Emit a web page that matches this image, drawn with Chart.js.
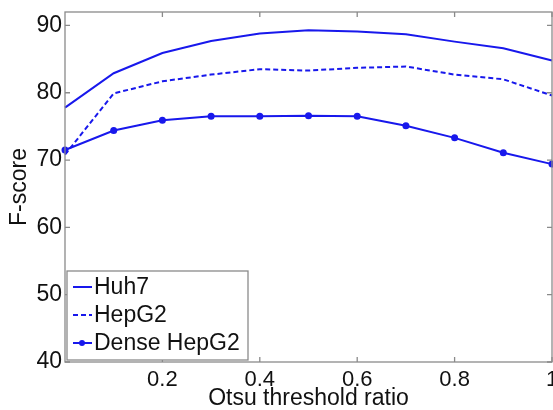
<!DOCTYPE html>
<html>
<head>
<meta charset="utf-8">
<script src="https://cdn.jsdelivr.net/npm/chart.js@4.4.1/dist/chart.umd.min.js"></script>
<style>
  html, body { margin: 0; padding: 0; background: #fff; }
  #wrap { width: 553px; height: 410px; }
</style>
</head>
<body>
<div id="wrap"><canvas id="myChart" width="553" height="410"></canvas></div>
<script>
var xValues = [0, 0.1, 0.2, 0.3, 0.4, 0.5, 0.6, 0.7, 0.8, 0.9, 1.0];
var huh7 = [77.8, 82.9, 85.9, 87.7, 88.8, 89.3, 89.1, 88.7, 87.6, 86.6, 84.8];
var hepg2 = [70.8, 79.9, 81.7, 82.7, 83.5, 83.3, 83.7, 83.9, 82.7, 82.0, 79.6];
var denseHepg2 = [71.5, 74.4, 75.9, 76.5, 76.5, 76.6, 76.5, 75.1, 73.3, 71.1, 69.4];
var xTicks = [0.2, 0.4, 0.6, 0.8, 1];
var yTicks = [40, 50, 60, 70, 80, 90];

var blue = "rgb(24,24,236)";
var boxGray = "#8a8a8a";
var fontFam = "'Liberation Sans', Arial, Helvetica, sans-serif";

function pts(ys) {
  return xValues.map((x, i) => ({ x: x, y: ys[i] }));
}

// no extra room for labels hanging past the axes
function noPad(s) {
  s.paddingLeft = 0; s.paddingRight = 0;
  s.paddingTop = 0; s.paddingBottom = 0;
}

// box, inward ticks (matlab style) and the legend inside the axes
const axesBox = {
  id: "axesBox",
  afterDatasetsDraw(chart) {
    const ctx = chart.ctx;
    const a = chart.chartArea;
    const xs = chart.scales.x, ys = chart.scales.y;
    ctx.save();
    ctx.strokeStyle = boxGray;
    ctx.lineWidth = 1.3;
    ctx.strokeRect(a.left, a.top, a.right - a.left, a.bottom - a.top);
    const tl = 5;
    ctx.beginPath();
    xTicks.forEach(v => {
      const px = xs.getPixelForValue(v);
      ctx.moveTo(px, a.bottom); ctx.lineTo(px, a.bottom - tl);
      ctx.moveTo(px, a.top); ctx.lineTo(px, a.top + tl);
    });
    yTicks.forEach(v => {
      const py = ys.getPixelForValue(v);
      ctx.moveTo(a.left, py); ctx.lineTo(a.left + tl, py);
      ctx.moveTo(a.right, py); ctx.lineTo(a.right - tl, py);
    });
    ctx.stroke();

    // legend
    const lx = a.left + 2, lw = 181, lh = 89;
    const ly = a.bottom - 2 - lh;
    ctx.fillStyle = "#fff";
    ctx.fillRect(lx, ly, lw, lh);
    ctx.strokeStyle = boxGray;
    ctx.lineWidth = 1.3;
    ctx.strokeRect(lx, ly, lw, lh);
    ctx.font = "23px " + fontFam;
    ctx.textBaseline = "middle";
    chart.data.datasets.forEach((ds, i) => {
      const cy = ly + 16 + i * 28;
      ctx.strokeStyle = ds.borderColor;
      ctx.lineWidth = 2;
      ctx.setLineDash(ds.borderDash || []);
      ctx.beginPath();
      ctx.moveTo(lx + 6, cy); ctx.lineTo(lx + 25, cy);
      ctx.stroke();
      ctx.setLineDash([]);
      if (ds.pointRadius > 0) {
        ctx.fillStyle = ds.borderColor;
        ctx.beginPath();
        ctx.arc(lx + 15, cy, 3, 0, Math.PI * 2);
        ctx.fill();
      }
      ctx.fillStyle = "#111";
      ctx.fillText(ds.label, lx + 27, cy + 1);
    });
    ctx.restore();
  }
};

new Chart("myChart", {
  type: "line",
  data: {
    datasets: [{
      label: "Huh7",
      data: pts(huh7),
      borderColor: blue,
      borderWidth: 2,
      pointRadius: 0
    }, {
      label: "HepG2",
      data: pts(hepg2),
      borderColor: blue,
      borderWidth: 2,
      borderDash: [5, 3],
      pointRadius: 0
    }, {
      label: "Dense HepG2",
      data: pts(denseHepg2),
      borderColor: blue,
      backgroundColor: blue,
      borderWidth: 2,
      pointRadius: 3.5,
      pointBorderWidth: 0
    }]
  },
  options: {
    responsive: false,
    animation: false,
    clip: false,
    layout: { autoPadding: false, padding: { top: 12, right: 1, left: 0, bottom: 0 } },
    plugins: { legend: { display: false }, tooltip: { enabled: false } },
    scales: {
      x: {
        type: "linear",
        min: 0, max: 1,
        afterBuildTicks: s => { s.ticks = xTicks.map(v => ({ value: v })); },
        afterFit: s => { s.height = 48; noPad(s); },
        grid: { display: false, drawTicks: false },
        border: { display: false },
        ticks: {
          color: "#111",
          padding: 5,
          maxRotation: 0,
          font: { family: fontFam, size: 22 },
          callback: v => String(v)
        },
        title: {
          display: true,
          text: "Otsu threshold ratio",
          color: "#111",
          padding: { top: 0, bottom: 0 },
          font: { family: fontFam, size: 23, lineHeight: 1 }
        }
      },
      y: {
        min: 40, max: 92,
        afterBuildTicks: s => { s.ticks = yTicks.map(v => ({ value: v })); },
        afterFit: s => { s.width = 65; noPad(s); },
        grid: { display: false, drawTicks: false },
        border: { display: false },
        ticks: {
          color: "#111",
          padding: 3,
          font: { family: fontFam, size: 23 }
        },
        title: {
          display: true,
          text: "F-score",
          color: "#111",
          padding: { top: 8, bottom: 0 },
          font: { family: fontFam, size: 23, lineHeight: 1 }
        }
      }
    }
  },
  plugins: [axesBox]
});
</script>
</body>
</html>
